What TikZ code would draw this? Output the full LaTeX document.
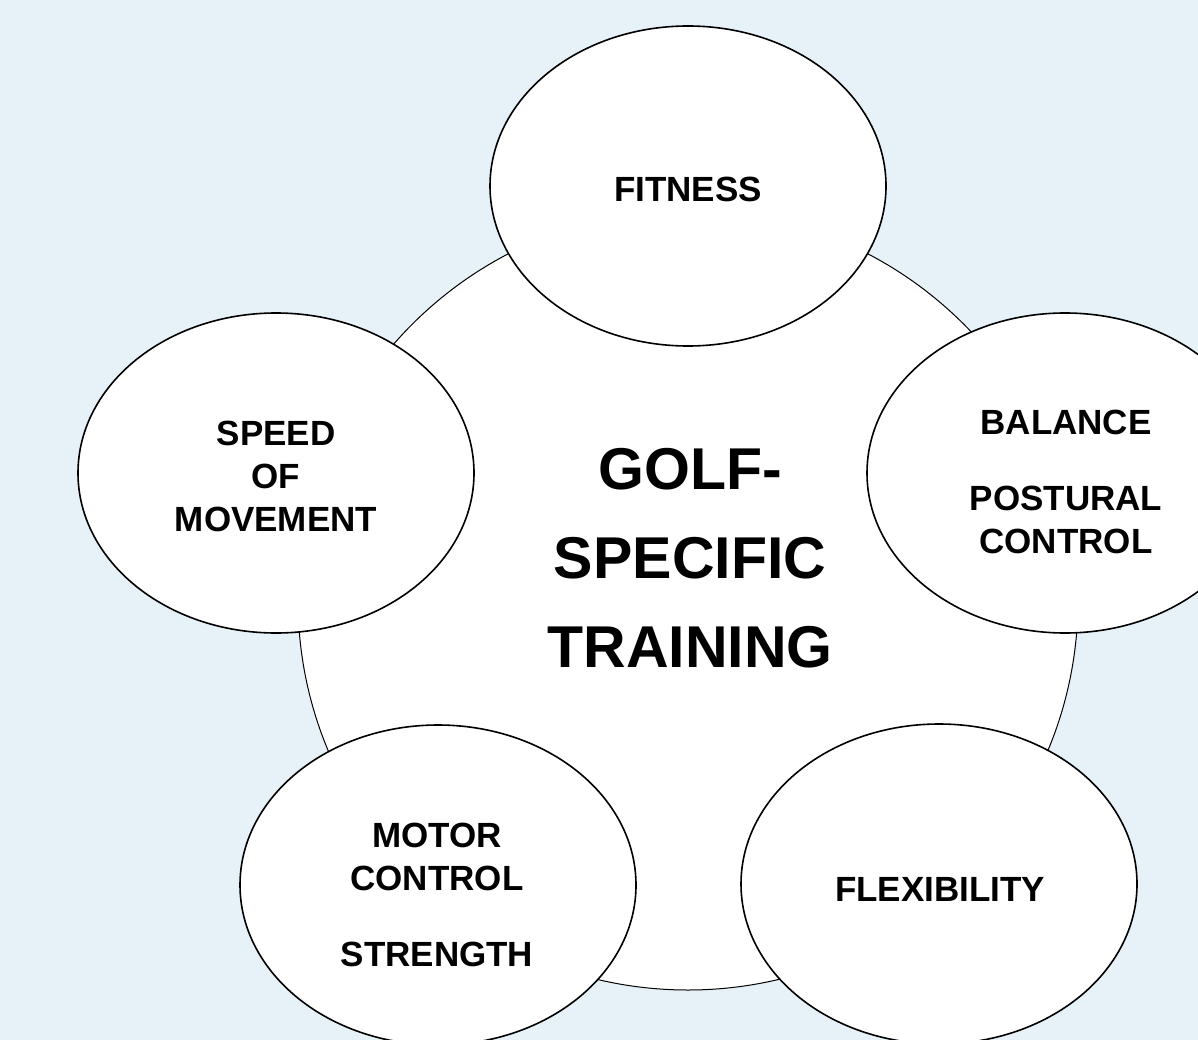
\documentclass[tikz,border=0pt]{standalone}
\usepackage{fontspec}
\setmainfont{Liberation Sans}
\usetikzlibrary{shapes.geometric}
\definecolor{backblue}{RGB}{230,241,248}
\begin{document}
\begin{tikzpicture}[x=1pt, y=-1pt,
		main/.style = {draw, ellipse, fill=white, line width=1.6pt, minimum width=396pt, minimum height=320pt},
		lab/.style = {align=center, font=\fontsize{35}{43}\selectfont\bfseries},
		hub/.style = {draw, circle, fill=white, line width=1pt, minimum size=780pt, inner sep=0pt},
		title/.style = {align=center, font=\fontsize{59}{89}\selectfont\bfseries}]
			\useasboundingbox (0,0) rectangle (1198,1040);
			\fill[backblue] (0,0) rectangle (1198,1040);
			\clip (0,0) rectangle (1198,1040);

			\node[hub] (golf) at (688,600) {};
			\node[title] (train) at (690,558) {GOLF-\\SPECIFIC\\TRAINING};

			\node[main] (fit) at (688,186) {};
			\node[main] (speed) at (276,473) {};
			\node[main] (bal) at (1065,473) {};
			\node[main] (motor) at (438,885) {};
			\node[main] (flex) at (939,884) {};

			\node[lab] (fitl) at (688,189) {FITNESS};
			\node[lab] (speedl) at (276,476) {SPEED\\OF\\MOVEMENT};
			\node[lab] (ball) at (1066,482) {BALANCE\\[33pt]POSTURAL\\CONTROL};
			\node[lab] (motorl) at (437,895) {MOTOR\\CONTROL\\[33pt]STRENGTH};
			\node[lab] (flexl) at (940,889) {FLEXIBILITY};
		\end{tikzpicture}
\end{document}
